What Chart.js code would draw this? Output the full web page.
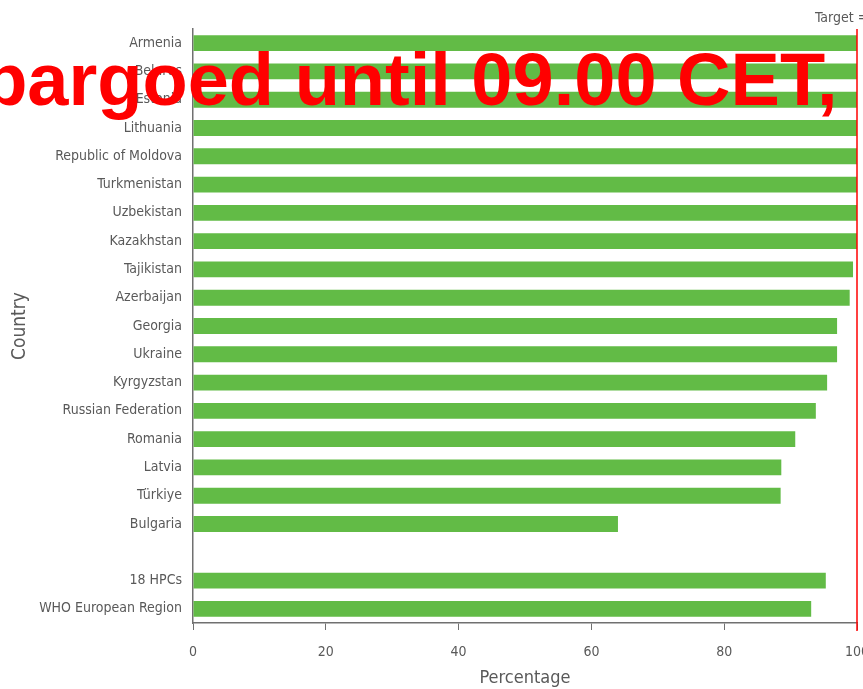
<!DOCTYPE html>
<html>
<head>
<meta charset="utf-8">
<script src="https://cdn.jsdelivr.net/npm/chart.js@4"></script>
<style>
  html, body { margin: 0; padding: 0; background: #fff; overflow: hidden; width: 863px; height: 689px; }
  #wrap { position: absolute; left: 0; top: 0; width: 900px; height: 689px; }
</style>
</head>
<body>
<div id="wrap"><canvas id="chart" width="900" height="689"></canvas></div>
<script>
// Data
const countries = [
    'Armenia', 'Belarus', 'Estonia', 'Lithuania', 'Republic of Moldova', 'Turkmenistan',
    'Uzbekistan', 'Kazakhstan', 'Tajikistan', 'Azerbaijan', 'Georgia', 'Ukraine',
    'Kyrgyzstan', 'Russian Federation', 'Romania', 'Latvia', 'Türkiye', 'Bulgaria',
    '', '18 HPCs', 'WHO European Region'
];
const percentages = [
    100, 100, 100, 100, 100, 100,
    100, 100, 99.4, 98.9, 97.0, 97.0,
    95.5, 93.8, 90.7, 88.6, 88.5, 64.0,
    null, 95.3, 93.1
];
const xTicks = [0, 20, 40, 60, 80, 100];
const target = 100;
const targetLabel = 'Target = 100%';
const watermark = 'Embargoed until 09.00 CET,';

const FONT = "'DejaVu Sans Condensed', 'Liberation Sans Narrow', sans-serif";
const GREY = '#595959';

// red target line + its label
const targetLine = {
    id: 'targetLine',
    afterDatasetsDraw(chart) {
        const {ctx, chartArea, scales} = chart;
        const x = scales.x.getPixelForValue(target);
        ctx.save();
        ctx.strokeStyle = '#ff0000';
        ctx.lineWidth = 1.5;
        ctx.beginPath();
        ctx.moveTo(x, chartArea.top);
        ctx.lineTo(x, chartArea.bottom + 8);
        ctx.stroke();
        ctx.fillStyle = GREY;
        ctx.font = '14px ' + FONT;
        ctx.textAlign = 'left';
        ctx.textBaseline = 'alphabetic';
        ctx.fillText(targetLabel, x - 42, chartArea.top - 7);
        ctx.restore();
    }
};

// embargo stamp over everything
const stamp = {
    id: 'stamp',
    afterDraw(chart) {
        const ctx = chart.ctx;
        ctx.save();
        ctx.fillStyle = '#ff0000';
        ctx.font = "bold 74px 'Liberation Sans', Arial, sans-serif";
        ctx.textAlign = 'left';
        ctx.textBaseline = 'alphabetic';
        ctx.fillText(watermark, -133, 105);
        ctx.restore();
    }
};

new Chart(document.getElementById('chart'), {
    type: 'bar',
    data: {
        labels: countries,
        datasets: [{
            data: percentages,
            backgroundColor: '#62bb46',
            borderWidth: 0,
            categoryPercentage: 1,
            barPercentage: 0.56
        }]
    },
    options: {
        indexAxis: 'y',
        responsive: false,
        animation: false,
        layout: { padding: { top: 29, right: 43, bottom: 0, left: 0 } },
        plugins: {
            legend: { display: false },
            tooltip: { enabled: false }
        },
        scales: {
            x: {
                min: 0,
                max: 100,
                afterBuildTicks: s => { s.ticks = xTicks.map(v => ({ value: v })); },
                afterFit: s => { s.height = 66; },
                grid: { drawOnChartArea: false, drawTicks: true, tickLength: 7, color: '#707070' },
                border: { color: '#707070', width: 1.5 },
                ticks: { color: GREY, font: { family: FONT, size: 14 }, padding: 14, maxRotation: 0 },
                title: {
                    display: true,
                    text: 'Percentage',
                    color: GREY,
                    font: { family: FONT, size: 18 },
                    padding: { top: 0, bottom: 0 }
                }
            },
            y: {
                afterFit: s => { s.width = 193; },
                grid: { display: false, drawTicks: false },
                border: { color: '#707070', width: 1.5 },
                ticks: { color: GREY, font: { family: FONT, size: 14 }, padding: 11, autoSkip: false },
                title: {
                    display: true,
                    text: 'Country',
                    color: GREY,
                    font: { family: FONT, size: 19 },
                    padding: { top: 9, bottom: 0 }
                }
            }
        }
    },
    plugins: [targetLine, stamp]
});
</script>
</body>
</html>
